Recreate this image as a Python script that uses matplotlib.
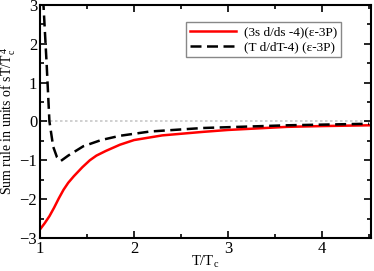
import matplotlib
matplotlib.use('Agg')
from matplotlib import pyplot as plt
from matplotlib.ticker import MultipleLocator

plt.rcParams['font.family'] = ['Liberation Serif', 'DejaVu Serif']
plt.rcParams['mathtext.fontset'] = 'custom'
plt.rcParams['mathtext.rm'] = 'Liberation Serif'
plt.rcParams['mathtext.it'] = 'Liberation Serif:italic'

# Dados
t_vermelho = [1.0, 1.05, 1.1, 1.15, 1.2, 1.25, 1.3, 1.36, 1.45, 1.53, 1.6,
              1.7, 1.85, 2.0, 2.3, 2.73, 3.0, 3.63, 4.0, 4.5]
soma_vermelho = [-2.78, -2.62, -2.44, -2.22, -1.98, -1.76, -1.58, -1.41,
                 -1.18, -1.0, -0.88, -0.76, -0.6, -0.48, -0.36, -0.27, -0.22,
                 -0.14, -0.12, -0.1]

t_tracejado = [1.03, 1.07, 1.10, 1.14, 1.18, 1.22, 1.3, 1.46, 1.65, 1.85,
               2.17, 2.73, 3.63, 4.5]
soma_tracejado = [3.3, 1.5, 0.0, -0.65, -0.92, -1.02, -0.88, -0.64, -0.48,
                  -0.37, -0.26, -0.17, -0.10, -0.06]

rotulos = ['(3s d/ds -4)(\u03b5-3P)', '(T d/dT-4) (\u03b5-3P)']

fig = plt.figure(dpi=100, figsize=(3.74, 2.71))
ax = fig.add_axes([0.107, 0.122, 0.885, 0.86])

ax.axhline(0, color='#c8c8c8', ls=(0, (1.5, 1.5)), lw=1.2, zorder=1)
ax.plot(t_vermelho, soma_vermelho, c='red', lw=1.8, label=rotulos[0])
ax.plot(t_tracejado, soma_tracejado, c='black', lw=1.8, ls=(0, (4.4, 2.2)),
        label=rotulos[1])

ax.set_xlim(1, 4.52)
ax.set_ylim(-3, 3)
ax.xaxis.set_major_locator(MultipleLocator(1))
ax.xaxis.set_minor_locator(MultipleLocator(0.5))
ax.yaxis.set_major_locator(MultipleLocator(1))
ax.yaxis.set_minor_locator(MultipleLocator(0.5))
ax.tick_params(which='both', direction='in', top=True, right=True,
               labelsize=12, width=1.2, pad=2)
ax.tick_params(which='major', length=5)
ax.tick_params(which='minor', length=3)
for lado in ax.spines.values():
    lado.set_linewidth(1.5)

ax.set_xlabel(r'T/T$_{\rm c}$', fontsize=10.5, labelpad=-2)
ax.set_ylabel(r'Sum rule in units of sT/T$_{\rm c}^{\,4}$', fontsize=10,
              labelpad=1)

leg = ax.legend(loc='upper left', bbox_to_anchor=(0.44, 0.925), fontsize=9.5,
                fancybox=False, framealpha=1, handlelength=3.5,
                borderpad=0.3, labelspacing=0.2, handletextpad=0.6,
                borderaxespad=0)
leg.get_frame().set_edgecolor('#888888')
leg.get_frame().set_linewidth(1.0)

fig.savefig('out.png', dpi=100)
